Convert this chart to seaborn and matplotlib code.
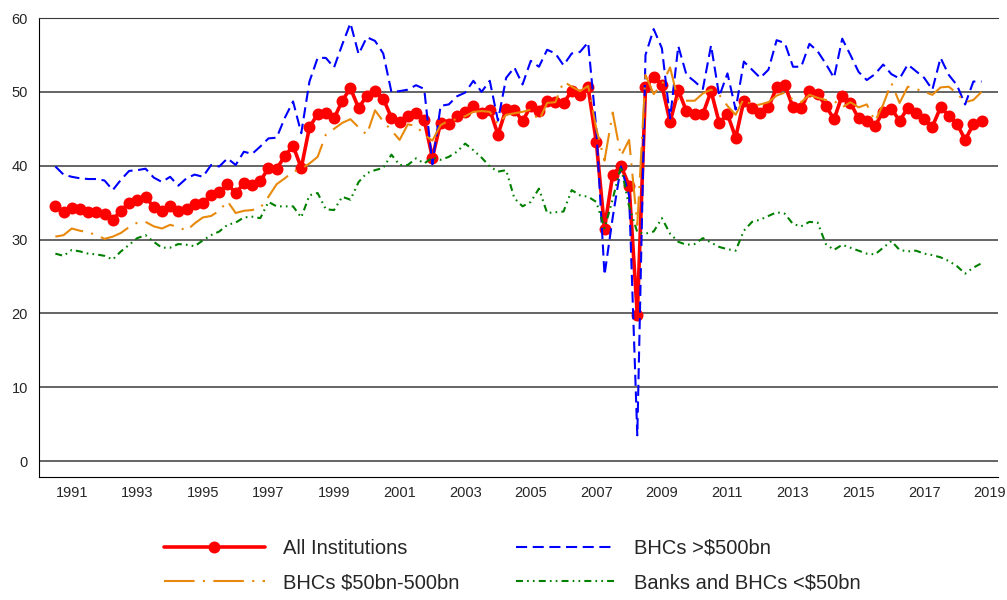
import numpy as np
import pandas as pd
import matplotlib.pyplot as plt
import seaborn as sns

# quarterly series, 1991Q1 .. 2019Q2 (one row per year, 4 quarters)
quarters = pd.period_range("1991Q1", "2019Q2", freq="Q")

all_inst = [
    34.5, 33.8, 34.3, 34.1,  # 1991
    33.8, 33.8, 33.5, 32.7,  # 1992
    33.9, 35.0, 35.3, 35.8,  # 1993
    34.4, 33.9, 34.6, 33.9,  # 1994
    34.1, 34.8, 35.0, 36.0,  # 1995
    36.4, 37.5, 36.3, 37.6,  # 1996
    37.4, 37.9, 39.7, 39.6,  # 1997
    41.3, 42.7, 39.7, 45.2,  # 1998
    47.0, 47.1, 46.4, 48.8,  # 1999
    50.5, 47.8, 49.5, 50.1,  # 2000
    49.1, 46.5, 45.9, 46.7,  # 2001
    47.2, 46.2, 41.1, 45.8,  # 2002
    45.6, 46.8, 47.3, 48.1,  # 2003
    47.2, 47.6, 44.2, 47.7,  # 2004
    47.6, 46.0, 48.1, 47.4,  # 2005
    48.8, 48.6, 48.5, 50.1,  # 2006
    49.6, 50.6, 43.2, 31.5,  # 2007
    38.8, 40.0, 37.3, 19.8,  # 2008
    50.6, 52.0, 50.9, 45.9,  # 2009
    50.2, 47.4, 47.0, 47.0,  # 2010
    50.1, 45.8, 47.0, 43.8,  # 2011
    48.8, 47.8, 47.1, 47.9,  # 2012
    50.6, 50.9, 47.9, 47.8,  # 2013
    50.1, 49.7, 48.1, 46.3,  # 2014
    49.5, 48.5, 46.4, 46.0,  # 2015
    45.4, 47.3, 47.7, 46.1,  # 2016
    47.8, 47.1, 46.3, 45.3,  # 2017
    47.9, 46.8, 45.7, 43.5,  # 2018
    45.6, 46.0,              # 2019
]

bhc_large = [
    39.9, 38.8, 38.5, 38.3,
    38.2, 38.2, 38.0, 36.7,
    38.1, 39.3, 39.4, 39.6,
    38.4, 37.8, 38.5, 37.3,
    38.3, 38.8, 38.5, 40.1,
    39.9, 41.0, 40.1, 41.9,
    41.6, 42.6, 43.7, 43.8,
    46.5, 48.7, 44.4, 51.4,
    54.6, 54.6, 53.3, 56.4,
    59.3, 55.1, 57.4, 56.9,
    55.2, 50.0, 50.1, 50.3,
    50.9, 50.4, 40.2, 48.1,
    48.3, 49.4, 49.9, 51.5,
    50.0, 51.5, 46.1, 51.9,
    53.3, 51.0, 54.2, 53.4,
    55.7, 55.2, 53.6, 55.2,
    55.4, 56.7, 45.0, 25.2,
    33.0, 39.9, 36.0, 3.5,
    55.0, 58.5, 55.9, 46.4,
    56.2, 52.3, 51.4, 50.4,
    56.3, 49.4, 52.5, 47.6,
    54.1, 53.0, 51.9, 53.0,
    57.0, 56.6, 53.4, 53.4,
    56.5, 55.5, 53.8, 51.9,
    57.2, 55.0, 52.7, 51.6,
    52.4, 53.7, 52.4, 51.8,
    53.7, 52.8, 51.9, 50.3,
    54.6, 52.3, 50.9, 48.3,
    51.4, 51.4,
]

bhc_mid = [
    30.4, 30.6, 31.5, 31.2,
    31.0, 30.6, 30.1, 30.4,
    30.9, 31.7, 32.3, 32.4,
    31.8, 31.5, 32.0, 31.7,
    31.2, 32.2, 33.0, 33.2,
    33.9, 35.2, 33.6, 33.9,
    34.0, 34.3, 35.8, 37.5,
    38.3, 39.2, 39.6, 40.3,
    41.2, 44.2, 45.0, 45.8,
    46.3, 45.2, 44.2, 47.5,
    46.0, 44.8, 43.5, 45.6,
    45.4, 44.2, 43.4, 45.5,
    46.1, 46.3, 46.7, 47.3,
    47.4, 47.3, 45.6, 46.9,
    47.1, 47.3, 47.6, 46.1,
    48.5, 48.6, 51.4, 50.7,
    50.1, 50.8, 45.0, 40.7,
    47.2, 41.3, 43.5, 32.0,
    52.3, 49.7, 51.0, 53.3,
    48.8, 48.8, 48.8, 49.8,
    50.3, 49.6, 48.1, 46.9,
    49.1, 48.1, 48.3, 48.6,
    49.5, 49.9, 48.9, 48.6,
    49.6, 49.2, 48.9, 48.8,
    47.9, 48.6, 47.9, 48.3,
    46.0, 48.3, 51.2, 48.5,
    50.7, 50.4, 50.0, 49.6,
    50.6, 50.7, 49.8, 48.6,
    48.9, 50.0,
]

banks_small = [
    28.1, 27.8, 28.6, 28.4,
    28.1, 28.0, 27.8, 27.3,
    28.4, 29.3, 30.2, 30.6,
    29.7, 28.9, 28.9, 29.4,
    29.3, 29.1, 29.9, 30.6,
    31.1, 32.0, 32.3, 33.0,
    33.1, 32.9, 35.1, 34.5,
    34.5, 34.5, 33.0, 36.0,
    36.3, 34.1, 34.0, 35.8,
    35.4, 37.8, 39.0, 39.4,
    39.7, 41.5, 40.1, 40.1,
    41.0, 40.3, 41.1, 40.8,
    41.2, 41.9, 43.0, 42.1,
    41.1, 39.9, 39.2, 39.4,
    35.6, 34.5, 35.1, 36.9,
    33.6, 33.7, 33.8, 36.7,
    36.0, 35.8, 35.1, 31.5,
    35.5, 39.9, 34.5, 31.0,
    30.8, 31.1, 32.9, 30.8,
    29.7, 29.3, 29.4, 30.2,
    29.6, 29.0, 28.7, 28.5,
    31.2, 32.4, 32.7, 33.2,
    33.7, 33.5, 32.1, 31.8,
    32.4, 32.3, 29.4, 28.6,
    29.3, 28.9, 28.5, 28.1,
    28.0, 28.9, 29.8, 28.6,
    28.4, 28.5, 28.1, 27.9,
    27.6, 27.1, 26.4, 25.4,
    26.2, 26.8,
]

labels = ["All Institutions", "BHCs >$500bn",
          "BHCs $50bn-500bn", "Banks and BHCs <$50bn"]

df = pd.DataFrame({
    "t": quarters.year + (quarters.quarter - 1) / 4,
    "all": all_inst,
    "large": bhc_large,
    "mid": bhc_mid,
    "small": banks_small,
})

sns.set_style("white")
plt.rcParams["font.family"] = ["Liberation Sans", "DejaVu Sans"]
plt.rcParams["lines.scale_dashes"] = False

fig, ax = plt.subplots(figsize=(10.07, 6.0), dpi=100)
fig.subplots_adjust(left=0.0387, right=0.991, top=0.97, bottom=0.2055)

sns.lineplot(data=df, x="t", y="all", ax=ax, color="#FF0000", lw=2.6,
             marker="o", markersize=8.6, markeredgewidth=0, zorder=2,
             label=labels[0])
sns.lineplot(data=df, x="t", y="large", ax=ax, color="#0000FF", lw=1.5,
             linestyle=(0, (8, 4)), zorder=3, label=labels[1])
sns.lineplot(data=df, x="t", y="mid", ax=ax, color="#E8890C", lw=1.5,
             linestyle=(0, (22, 6, 1.5, 6)), zorder=3, label=labels[2])
sns.lineplot(data=df, x="t", y="small", ax=ax, color="#008000", lw=1.5,
             linestyle=(0, (5, 3, 1.2, 3, 1.2, 3)), zorder=3, label=labels[3])

ax.set_xlim(1990.5, 2019.75)
ax.set_ylim(-2.1, 60)
ax.set_xlabel("")
ax.set_ylabel("")

ax.set_yticks(range(0, 61, 10))
ax.yaxis.grid(True, color="#3a3a3a", lw=1.1)
ax.set_axisbelow(True)
ax.tick_params(axis="y", length=0, pad=8, labelsize=10.5)

label_years = list(range(1991, 2020, 2))
ax.set_xticks([y + 0.5 for y in label_years])
ax.set_xticklabels([str(y) for y in label_years])
ax.set_xticks(range(1991, 2020), minor=True)
ax.tick_params(axis="x", which="major", length=0, pad=7, labelsize=10.5)
ax.tick_params(axis="x", which="minor", direction="in", length=7,
               width=1, color="black")

for side in ["right"]:
    ax.spines[side].set_visible(False)
ax.spines["top"].set_color("#3a3a3a")
ax.spines["left"].set_color("black")
ax.spines["bottom"].set_color("black")

handles, labs = ax.get_legend_handles_labels()
if ax.get_legend() is not None:
    ax.get_legend().remove()
order = [0, 2, 1, 3]
fig.legend([handles[i] for i in order], [labs[i] for i in order], ncol=2,
           loc="center", bbox_to_anchor=(0.509, 0.0575), frameon=False,
           fontsize=14.5, handlelength=5, handletextpad=0.9,
           columnspacing=2.8, labelspacing=0.75)

fig.savefig("out.png", dpi=100)
